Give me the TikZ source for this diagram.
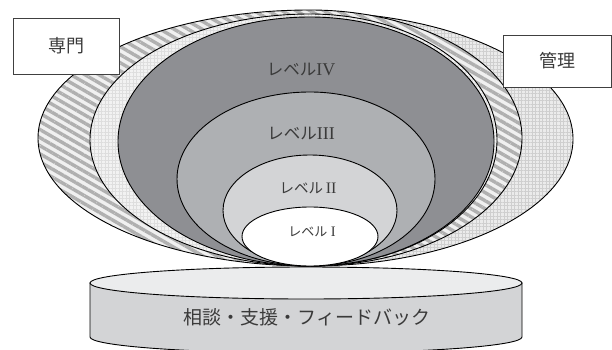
\documentclass[tikz,border=0pt]{standalone}
\usepackage{fontspec}
\setmainfont{Liberation Serif}
\newfontfamily\jp{Noto Sans CJK JP}
\usetikzlibrary{patterns.meta}
\definecolor{lvfour}{HTML}{8E8F93}
\definecolor{lvthree}{HTML}{AEB0B3}
\definecolor{lvtwo}{HTML}{D3D4D6}
\definecolor{cyltop}{HTML}{EBECED}
\definecolor{cylside}{HTML}{D3D4D6}
\definecolor{txtgray}{HTML}{3A3A3A}
\tikzset{
  shell/.style={draw=black, line width=0.9pt},
  striped/.style={shell, preaction={fill=gray!12},
    pattern={Lines[angle=-30, distance=7pt, line width=3.4pt]}, pattern color=gray!62},
  checked/.style={shell, preaction={fill=gray!16},
    pattern={Hatch[angle=0, distance=3.5pt, line width=1pt]}, pattern color=gray!38},
  lightchecked/.style={shell, preaction={fill=gray!10},
    pattern={Hatch[angle=0, distance=3.5pt, line width=0.9pt]}, pattern color=gray!26},
  labelbox/.style={draw=black!75, line width=0.8pt, fill=white, minimum width=106pt, minimum height=56pt, inner sep=0pt, font=\jp\fontsize{18pt}{20pt}\selectfont, text=txtgray},
  lvtext/.style={text=txtgray, inner sep=0pt},
}
\begin{document}
\begin{tikzpicture}[x=1pt,y=1pt]
\useasboundingbox (0,0) rectangle (612,349);
\clip (0,0) rectangle (612,349);
% bottom tangent point at (310,83)
\coordinate (P) at (310,83);
% checkered (kanri)
\path[checked] (P) arc[start angle=-90, end angle=90, x radius=263pt, y radius=127pt]
   arc[start angle=90, end angle=270, x radius=220pt, y radius=127pt] -- cycle;
% striped (senmon)
\path[striped] (P) arc[start angle=-90, end angle=90, x radius=212pt, y radius=128pt]
   arc[start angle=90, end angle=270, x radius=272pt, y radius=128pt] -- cycle;
% light checkered inner
\path[lightchecked] (P) arc[start angle=-90, end angle=90, x radius=187pt, y radius=126pt]
   arc[start angle=90, end angle=270, x radius=220pt, y radius=126pt] -- cycle;
% level IV
\path[shell, fill=lvfour] (P) arc[start angle=-90, end angle=90, x radius=184pt, y radius=124.5pt]
   arc[start angle=90, end angle=270, x radius=192pt, y radius=124.5pt] -- cycle;
% level III
\path[shell, fill=lvthree] (P) arc[start angle=-90, end angle=90, x radius=125pt, y radius=87pt]
   arc[start angle=90, end angle=270, x radius=133pt, y radius=87pt] -- cycle;
% level II
\path[shell, fill=lvtwo] (P) arc[start angle=-90, end angle=90, x radius=87pt, y radius=55.5pt]
   arc[start angle=90, end angle=270, x radius=87pt, y radius=55.5pt] -- cycle;
% level I
\path[shell, fill=white] (P) arc[start angle=-90, end angle=90, x radius=68pt, y radius=29.5pt]
   arc[start angle=90, end angle=270, x radius=68pt, y radius=29.5pt] -- cycle;

\node[lvtext] (l4) at (301,279) {{\jp\fontsize{16.5pt}{18pt}\selectfont レベル}{\fontsize{18pt}{18pt}\selectfont IV}};
\node[lvtext] (l3) at (301,215) {{\jp\fontsize{16.5pt}{18pt}\selectfont レベル}{\fontsize{18pt}{18pt}\selectfont III}};
\node[lvtext] (l2) at (308,161) {{\jp\fontsize{14.5pt}{16pt}\selectfont レベル}{\fontsize{16pt}{16pt}\selectfont\,II}};
\node[lvtext] (l1) at (312,117) {{\jp\fontsize{13pt}{14pt}\selectfont レベル}{\fontsize{14.5pt}{16pt}\selectfont\ I}};

% label boxes
\node[labelbox] (senmon) at (66,303) {専門};
\node[labelbox, minimum width=108pt, minimum height=52pt] (kanri) at (557,288) {管理};

% cylinder
\path[draw=black, line width=0.9pt, fill=cylside] (90,66) -- (90,12)
   arc[start angle=180, end angle=360, x radius=216pt, y radius=16pt] -- (522,66) -- cycle;
\path[draw=black, line width=0.9pt, fill=cyltop] (306,66) ellipse[x radius=216pt, y radius=16pt];
\node[text=txtgray, font=\jp\fontsize{19pt}{21pt}\selectfont] (base) at (307,32) {相談・支援・フィードバック};
\end{tikzpicture}
\end{document}
